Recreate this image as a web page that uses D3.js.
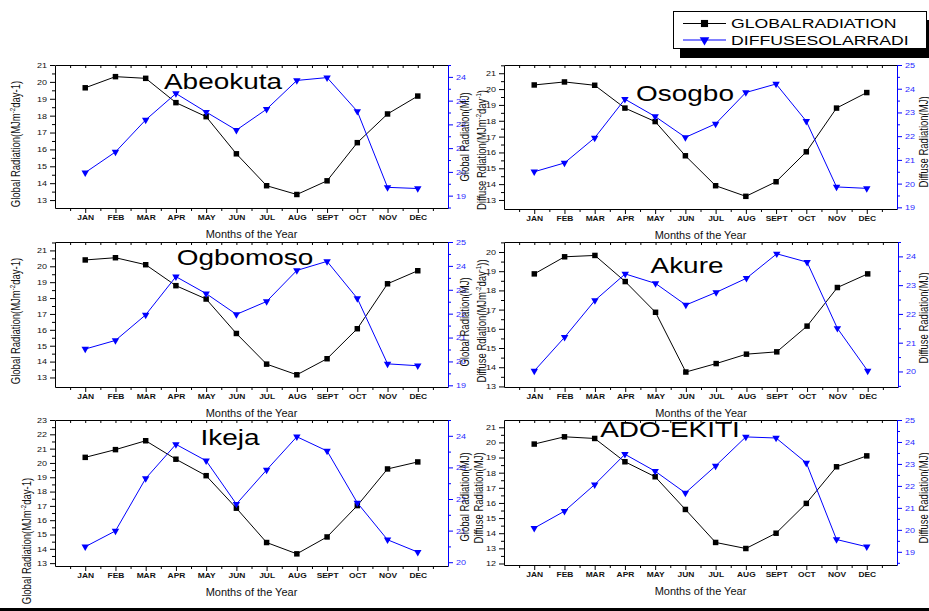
<!DOCTYPE html>
<html>
<head>
<meta charset="utf-8">
<script src="https://cdn.jsdelivr.net/npm/d3@7"></script>
<style>
  body { margin: 0; background: #fff; }
  svg { display: block; font-family: "Liberation Sans", Arial, sans-serif; }
</style>
</head>
<body>
<div id="chart"></div>
<script>
const months = ["JAN", "FEB", "MAR", "APR", "MAY", "JUN", "JUL", "AUG", "SEPT", "OCT", "NOV", "DEC"];

const abeokutaGlobal = [19.65, 20.31, 20.21, 18.77, 17.94, 15.74, 13.85, 13.33, 14.14, 16.4, 18.1, 19.16];
const abeokutaDiffuse = [19.97, 20.84, 22.19, 23.3, 22.52, 21.76, 22.64, 23.85, 23.97, 22.55, 19.35, 19.3];
const osogboGlobal = [20.26, 20.45, 20.24, 18.8, 17.95, 15.79, 13.9, 13.23, 14.15, 16.04, 18.8, 19.78];
const osogboDiffuse = [20.5, 20.87, 21.93, 23.56, 22.83, 21.95, 22.52, 23.84, 24.2, 22.63, 19.86, 19.8];
const ogbomosoGlobal = [20.4, 20.54, 20.1, 18.78, 17.94, 15.77, 13.84, 13.17, 14.18, 16.07, 18.9, 19.72];
const ogbomosoDiffuse = [20.52, 20.88, 21.95, 23.55, 22.84, 21.97, 22.51, 23.81, 24.19, 22.64, 19.9, 19.82];
const akureGlobal = [18.86, 19.75, 19.82, 18.46, 16.86, 13.75, 14.19, 14.68, 14.8, 16.14, 18.15, 18.86];
const akureDiffuse = [20.02, 21.19, 22.47, 23.39, 23.06, 22.31, 22.75, 23.24, 24.09, 23.8, 21.5, 20.02];
const ikejaGlobal = [20.39, 20.93, 21.55, 20.26, 19.11, 16.84, 14.44, 13.65, 14.83, 17.02, 19.58, 20.07];
const ikejaDiffuse = [20.49, 20.99, 22.65, 23.73, 23.21, 21.84, 22.92, 23.97, 23.52, 21.88, 20.71, 20.32];
const adoGlobal = [19.89, 20.37, 20.26, 18.72, 17.73, 15.57, 13.39, 12.99, 14.0, 15.97, 18.39, 19.11];
const adoDiffuse = [20.08, 20.85, 22.06, 23.44, 22.67, 21.68, 22.91, 24.23, 24.18, 23.05, 19.56, 19.23];

const ticks13to21 = [13, 14, 15, 16, 17, 18, 19, 20, 21];
const ticks13to20 = [13, 14, 15, 16, 17, 18, 19, 20];
const ticks13to23 = [13, 14, 15, 16, 17, 18, 19, 20, 21, 22, 23];
const ticks12to21 = [12, 13, 14, 15, 16, 17, 18, 19, 20, 21];
const ticks19to24 = [19, 20, 21, 22, 23, 24];
const ticks19to25 = [19, 20, 21, 22, 23, 24, 25];
const ticks20to24 = [20, 21, 22, 23, 24];

const legendLabels = ["GLOBALRADIATION", "DIFFUSESOLARRADI"];

// label pieces: [text, superscript?]
const globalLeftLabel = [["Global Radiation(MJm", 0], ["-2", 1], ["day-1)", 0]];
const globalMJLabel = [["Global Radiation(MJ)", 0]];
const diffuseLabel2 = [["Diffuse Rdiation(MJm", 0], ["-2", 1], ["day", 0], ["-1", 1], [")", 0]];
const diffuseLabel4 = [["Diffuse Rdiation(MJm", 0], ["-2", 1], ["day", 0], ["-1", 1], ["))", 0]];
const diffuseMJLabel = [["Diffuse Radiation(MJ)", 0]];

const W = 929, H = 611;
const BLUE = "#0000ff", BLUE_TEXT = "#2a2aff";

const panels = [
  { name: "Abeokuta", global: abeokutaGlobal, diffuse: abeokutaDiffuse,
    left: 55, right: 448, top: 65, bottom: 208, yL: [12.53, 21], yR: [18.48, 24.5],
    lt: ticks13to21, rt: ticks19to24, title: [223, 89],
    leftLabel: globalLeftLabel, leftLabelPos: [16, 144], rightLabel: globalMJLabel, rightLabelPos: [465, 137] },
  { name: "Osogbo", global: osogboGlobal, diffuse: osogboDiffuse,
    left: 504, right: 897, top: 65, bottom: 209, yL: [12.43, 21.52], yR: [18.93, 25],
    lt: ticks13to21, rt: ticks19to25, title: [685, 101],
    leftLabel: diffuseLabel2, leftLabelPos: [482, 150], rightLabel: diffuseMJLabel, rightLabelPos: [923.5, 142] },
  { name: "Ogbomoso", global: ogbomosoGlobal, diffuse: ogbomosoDiffuse,
    left: 55, right: 448, top: 242, bottom: 387, yL: [12.4, 21.53], yR: [18.93, 25],
    lt: ticks13to21, rt: ticks19to25, title: [245, 265],
    leftLabel: globalLeftLabel, leftLabelPos: [16, 321], rightLabel: globalMJLabel, rightLabelPos: [465, 322] },
  { name: "Akure", global: akureGlobal, diffuse: akureDiffuse,
    left: 504, right: 898, top: 242, bottom: 387, yL: [12.97, 20.52], yR: [19.46, 24.5],
    lt: ticks13to20, rt: ticks20to24, title: [687, 273],
    leftLabel: diffuseLabel4, leftLabelPos: [482, 321], rightLabel: diffuseMJLabel, rightLabelPos: [923.5, 318] },
  { name: "Ikeja", global: ikejaGlobal, diffuse: ikejaDiffuse,
    left: 55, right: 448, top: 420, bottom: 566, yL: [12.8, 23], yR: [19.88, 24.5],
    lt: ticks13to23, rt: ticks20to24, title: [230, 445],
    leftLabel: globalLeftLabel, leftLabelPos: [27, 541], rightLabel: globalMJLabel, rightLabelPos: [465, 497] },
  { name: "ADO-EKITI", global: adoGlobal, diffuse: adoDiffuse,
    left: 504, right: 897, top: 420, bottom: 565, yL: [11.9, 21.48], yR: [18.4, 25],
    lt: ticks12to21, rt: ticks19to25, title: [670, 437],
    leftLabel: diffuseMJLabel, leftLabelPos: [479, 498], rightLabel: diffuseMJLabel, rightLabelPos: [923.5, 498] }
];

const svg = d3.select("#chart").append("svg")
  .attr("width", W).attr("height", H)
  .attr("viewBox", [0, 0, W, H]);

svg.append("rect").attr("width", W).attr("height", H).attr("fill", "#fff");

// the source picture is stretched sideways, so text gets a horizontal scale
function stretch(sel, sx) {
  sel.each(function () {
    const t = d3.select(this);
    const x = +t.attr("x") || 0;
    const y = +t.attr("y") || 0;
    t.attr("x", null).attr("y", null)
      .attr("transform", `translate(${x},${y}) scale(${sx},1)`);
  });
}

function vLabel(g, pos, parts, size, color) {
  const t = g.append("text")
    .attr("transform", `translate(${pos[0]},${pos[1]}) rotate(-90) scale(1,1.25)`)
    .attr("text-anchor", "middle")
    .attr("font-size", size)
    .attr("fill", color)
    .attr("dy", "0.35em");
  let up = false;
  parts.forEach(([s, sup]) => {
    const ts = t.append("tspan").text(s);
    if (sup && !up) { ts.attr("font-size", size * 0.65).attr("dy", -size * 0.4); up = true; }
    else if (!sup && up) { ts.attr("dy", size * 0.4); up = false; }
    else if (sup) ts.attr("font-size", size * 0.65);
  });
}

const symSquare = d3.symbol().type(d3.symbolSquare).size(30);
const symTri = d3.symbol().type(d3.symbolTriangle).size(24);
const intFmt = d3.format("d");

function drawPanel(p) {
  const x = d3.scaleLinear().domain([0, 13]).range([p.left, p.right]);
  const yL = d3.scaleLinear().domain(p.yL).range([p.bottom, p.top]);
  const yR = d3.scaleLinear().domain(p.yR).range([p.bottom, p.top]);
  const halfMonths = d3.range(0.5, 13, 0.5);
  const g = svg.append("g");

  // top frame with inward ticks
  g.append("g")
    .attr("transform", `translate(0,${p.top})`)
    .call(d3.axisBottom(x).tickValues(halfMonths).tickSize(3).tickSizeOuter(0).tickFormat(""));

  // bottom axis
  const gx = g.append("g").attr("transform", `translate(0,${p.bottom})`);
  gx.call(d3.axisBottom(x).tickValues(d3.range(1, 13)).tickSize(5).tickPadding(2.5).tickSizeOuter(0)
    .tickFormat(d => months[d - 1]));
  gx.append("g").call(d3.axisBottom(x).tickValues(d3.range(0.5, 13, 1)).tickSize(3).tickFormat(""))
    .select(".domain").remove();
  gx.selectAll("text").attr("font-size", 7).attr("font-weight", "bold").attr("fill", "#111")
    .attr("font-family", null);
  stretch(gx.selectAll("text"), 1.2);

  // left axis
  const gl = g.append("g").attr("transform", `translate(${p.left},0)`);
  gl.call(d3.axisLeft(yL).tickValues(p.lt).tickSize(5).tickPadding(3).tickSizeOuter(0).tickFormat(intFmt));
  gl.append("g").call(d3.axisLeft(yL).tickValues(p.lt.map(v => v + 0.5).filter(v => v < p.yL[1]))
    .tickSize(3).tickFormat("")).select(".domain").remove();
  gl.selectAll("text").attr("font-size", 7.5).attr("fill", "#111").attr("font-family", null);
  stretch(gl.selectAll("text"), 1.2);

  // right axis, blue
  const gr = g.append("g").attr("transform", `translate(${p.right},0)`);
  gr.call(d3.axisRight(yR).tickValues(p.rt).tickSize(5).tickPadding(3).tickSizeOuter(0).tickFormat(intFmt));
  gr.append("g").call(d3.axisRight(yR)
    .tickValues(d3.range(Math.ceil(p.yR[0] * 2) / 2, p.yR[1] + 0.01, 0.5).filter(v => v % 1 !== 0))
    .tickSize(3).tickFormat("")).select(".domain").remove();
  gr.selectAll("path, line").attr("stroke", BLUE);
  gr.selectAll("text").attr("font-size", 7.5).attr("fill", BLUE_TEXT).attr("font-family", null);
  stretch(gr.selectAll("text"), 1.2);

  // series
  const lineG = d3.line().x((d, i) => x(i + 1)).y(d => yL(d));
  const lineD = d3.line().x((d, i) => x(i + 1)).y(d => yR(d));

  g.append("path").datum(p.global).attr("d", lineG)
    .attr("fill", "none").attr("stroke", "#000").attr("stroke-width", 1);
  g.selectAll(".sq").data(p.global).join("path").attr("class", "sq")
    .attr("d", symSquare)
    .attr("transform", (d, i) => `translate(${x(i + 1)},${yL(d)})`)
    .attr("fill", "#000");

  g.append("path").datum(p.diffuse).attr("d", lineD)
    .attr("fill", "none").attr("stroke", BLUE).attr("stroke-width", 1);
  g.selectAll(".tri").data(p.diffuse).join("path").attr("class", "tri")
    .attr("d", symTri)
    .attr("transform", (d, i) => `translate(${x(i + 1)},${yR(d)}) rotate(180)`)
    .attr("fill", BLUE);

  // titles and labels
  g.append("text")
    .attr("transform", `translate(${p.title[0]},${p.title[1]}) scale(1.3,1)`)
    .attr("text-anchor", "middle").attr("font-size", 21.5).attr("fill", "#000")
    .text(p.name);

  g.append("text")
    .attr("transform", `translate(${(p.left + p.right) / 2},${p.bottom + 30}) scale(1.1,1)`)
    .attr("text-anchor", "middle").attr("font-size", 10).attr("fill", "#111")
    .text("Months of the Year");

  vLabel(g, p.leftLabelPos, p.leftLabel, 9.5, "#111");
  vLabel(g, p.rightLabelPos, p.rightLabel, 9.5, "#111");
}

panels.forEach(drawPanel);

// legend
const lg = svg.append("g");
lg.append("rect").attr("x", 680).attr("y", 20).attr("width", 256).attr("height", 38).attr("fill", "#000");
lg.append("rect").attr("x", 673.5).attr("y", 11.5).attr("width", 253).attr("height", 37)
  .attr("fill", "#fff").attr("stroke", "#000").attr("stroke-width", 1);

const legendRows = [
  { label: legendLabels[0], color: "#000", sym: symSquare, rot: 0, y: 23.5 },
  { label: legendLabels[1], color: BLUE, sym: symTri, rot: 180, y: 40 }
];
legendRows.forEach(r => {
  lg.append("line").attr("x1", 683).attr("x2", 726).attr("y1", r.y).attr("y2", r.y)
    .attr("stroke", r.color).attr("stroke-width", 1);
  lg.append("path").attr("d", r.sym)
    .attr("transform", `translate(704.5,${r.y}) rotate(${r.rot}) scale(1.3)`)
    .attr("fill", r.color);
  lg.append("text")
    .attr("transform", `translate(731,${r.y + 4.7}) scale(1.36,1)`)
    .attr("font-size", 13).attr("fill", "#000")
    .text(r.label);
});

// bottom edge bar
svg.append("rect").attr("x", 0).attr("y", 608).attr("width", W).attr("height", 3).attr("fill", "#000");
</script>
</body>
</html>
